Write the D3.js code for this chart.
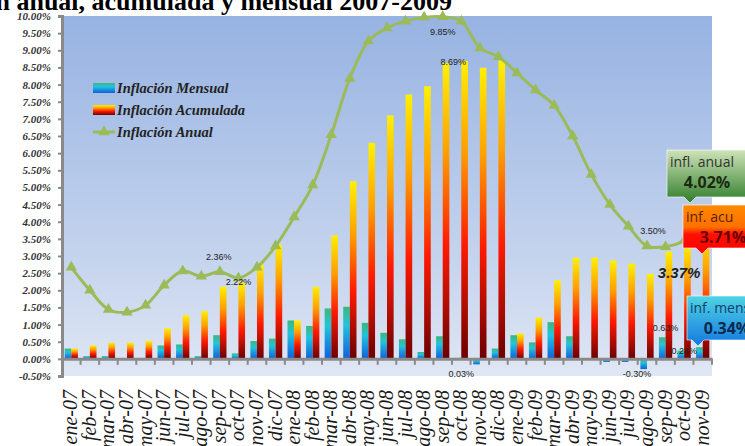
<!DOCTYPE html>
<html>
<head>
<meta charset="utf-8">
<script src="https://cdn.jsdelivr.net/npm/d3@7"></script>
<style>
  body { margin: 0; background: #fff; }
  svg { display: block; }
</style>
</head>
<body>
<svg id="chart" width="745" height="446"></svg>
<script>
// datos
const months = ["ene-07","feb-07","mar-07","abr-07","may-07","jun-07","jul-07","ago-07","sep-07","oct-07","nov-07","dic-07",
  "ene-08","feb-08","mar-08","abr-08","may-08","jun-08","jul-08","ago-08","sep-08","oct-08","nov-08","dic-08",
  "ene-09","feb-09","mar-09","abr-09","may-09","jun-09","jul-09","ago-09","sep-09","oct-09","nov-09"];
const mensual = [0.30,0.08,0.08,-0.02,0.02,0.39,0.42,0.08,0.69,0.16,0.52,0.59,
  1.12,0.96,1.47,1.52,1.05,0.76,0.57,0.20,0.66,0.03,-0.16,0.30,
  0.69,0.48,1.07,0.66,-0.03,-0.09,-0.09,-0.30,0.63,0.24,0.34];
const acumulada = [0.30,0.39,0.47,0.47,0.52,0.89,1.27,1.39,2.10,2.22,2.75,3.33,
  1.12,2.10,3.60,5.18,6.30,7.10,7.71,7.95,8.63,8.69,8.49,8.70,
  0.74,1.20,2.29,2.95,2.95,2.87,2.78,2.48,3.13,3.37,3.71];
const anual = [2.67,2.00,1.44,1.36,1.56,2.15,2.56,2.41,2.54,2.36,2.67,3.29,
  4.14,5.07,6.54,8.18,9.27,9.65,9.85,9.96,9.98,9.85,9.07,8.81,
  8.34,7.84,7.39,6.50,5.38,4.50,3.87,3.29,3.27,3.45,4.02];
const yTicks = [-0.5,0,0.5,1,1.5,2,2.5,3,3.5,4,4.5,5,5.5,6,6.5,7,7.5,8,8.5,9,9.5,10];
const seriesNames = ["Inflación Mensual","Inflación Acumulada","Inflación Anual"];
// etiquetas de datos: texto, mes, valor donde se dibuja
const dataLabels = [
  ["2.36%","sep-07",2.98],
  ["2.22%","oct-07",2.23],
  ["9.85%","sep-08",9.52],
  ["8.69%","oct-08",8.66],
  ["0.03%","oct-08",-0.43],
  ["3.50%","ago-09",3.72],
  ["0.63%","sep-09",0.89],
  ["-0.30%","ago-09",-0.45],
  ["0.24%","oct-09",0.22]
];

const svg = d3.select("#chart");
const margin = { top: 16, right: 33, bottom: 70, left: 62 };
const W = 745, H = 446;

const x = d3.scaleBand().domain(months).range([margin.left, W - margin.right]).padding(0);
const xs = d3.scaleBand().domain(["m","a"]).range([0, x.bandwidth()]).paddingInner(0).paddingOuter(0.4);
const y = d3.scaleLinear().domain([-0.5, 10]).range([H - margin.bottom, margin.top]);

const defs = svg.append("defs");
function grad(id, stops) {
  const g = defs.append("linearGradient").attr("id", id)
    .attr("x1", 0).attr("y1", 0).attr("x2", 0).attr("y2", 1);
  stops.forEach(s => g.append("stop").attr("offset", s[0]).attr("stop-color", s[1]));
}
grad("bg", [[0, "#97b3e2"], [0.7, "#c7d5ee"], [1, "#e0e7f4"]]);
grad("gMens", [[0, "#3cb878"], [0.35, "#22c4dc"], [1, "#1060dc"]]);
grad("gAcum", [[0, "#fff000"], [0.3, "#ffa000"], [0.62, "#ff1a00"], [1, "#6a0000"]]);
grad("boxAnual", [[0, "#cfe3b8"], [1, "#2f7d2a"]]);
grad("boxAcum", [[0, "#ff8a00"], [0.45, "#ff7000"], [0.6, "#ff1000"], [1, "#ff0000"]]);
grad("boxMens", [[0, "#4fd4e4"], [1, "#1478e0"]]);

// fondo del area de trazado
svg.append("rect")
  .attr("x", margin.left).attr("y", margin.top)
  .attr("width", W - margin.left - margin.right)
  .attr("height", H - margin.top - margin.bottom)
  .attr("fill", "url(#bg)");

// titulo (cortado arriba y a la izquierda como en el original)
svg.append("text")
  .attr("x", 452).attr("y", 10)
  .attr("text-anchor", "end")
  .attr("font-family", "Liberation Serif, Times New Roman, serif")
  .attr("font-weight", "bold").attr("font-size", 26)
  .text("Inflación anual, acumulada y mensual 2007-2009");

// barras
const g = svg.append("g");
g.selectAll(".mens").data(months).enter().append("rect")
  .attr("x", (d) => x(d) + xs("m"))
  .attr("y", (d, i) => y(Math.max(0, mensual[i])))
  .attr("width", xs.bandwidth())
  .attr("height", (d, i) => Math.abs(y(mensual[i]) - y(0)))
  .attr("fill", "url(#gMens)");
g.selectAll(".acum").data(months).enter().append("rect")
  .attr("x", (d) => x(d) + xs("a"))
  .attr("y", (d, i) => y(acumulada[i]))
  .attr("width", xs.bandwidth())
  .attr("height", (d, i) => y(0) - y(acumulada[i]))
  .attr("fill", "url(#gAcum)");

// eje Y
const yAxis = svg.append("g")
  .attr("transform", `translate(${margin.left},0)`)
  .call(d3.axisLeft(y).tickValues(yTicks).tickSize(4).tickFormat(d => d.toFixed(2) + "%"));
yAxis.select(".domain").attr("stroke", "#8a8a8a").attr("stroke-width", 3);
yAxis.selectAll(".tick line").attr("stroke", "#8a8a8a").attr("stroke-width", 2);
yAxis.selectAll("text")
  .attr("x", -11)
  .attr("font-family", "Liberation Serif, Times New Roman, serif")
  .attr("font-style", "italic").attr("font-weight", "bold")
  .attr("font-size", 11).attr("fill", "#333");

// eje X en el cero
const xAxis = svg.append("g")
  .attr("transform", `translate(0,${y(0)})`)
  .call(d3.axisBottom(x).tickSize(0).tickFormat(""));
xAxis.select(".domain").attr("stroke", "#8a8a8a").attr("stroke-width", 3);
xAxis.selectAll(".sep").data(months).enter().append("line")
  .attr("x1", d => x(d) + x.bandwidth()).attr("x2", d => x(d) + x.bandwidth())
  .attr("y1", 0).attr("y2", 6)
  .attr("stroke", "#8a8a8a").attr("stroke-width", 2);

// etiquetas de meses
svg.append("g").selectAll("text").data(months).enter().append("text")
  .attr("transform", d => `translate(${x(d) + x.bandwidth() / 2 + 6},${y.range()[0] + 14}) rotate(-90)`)
  .attr("text-anchor", "end")
  .attr("font-family", "Liberation Serif, Times New Roman, serif")
  .attr("font-style", "italic")
  .attr("font-size", 20).attr("fill", "#1a1a1a")
  .text(d => d);

// linea anual
const line = d3.line()
  .x((d, i) => x(months[i]) + x.bandwidth() / 2)
  .y(d => y(d))
  .curve(d3.curveCatmullRom);
svg.append("path").datum(anual)
  .attr("d", line)
  .attr("fill", "none").attr("stroke", "#9bbb59").attr("stroke-width", 3);
const tri = d3.symbol().type(d3.symbolTriangle).size(55);
svg.append("g").selectAll("path").data(anual).enter().append("path")
  .attr("d", tri)
  .attr("transform", (d, i) => `translate(${x(months[i]) + x.bandwidth() / 2},${y(d)})`)
  .attr("fill", "#9bbb59");

// etiquetas de datos
svg.append("g").selectAll("text").data(dataLabels).enter().append("text")
  .attr("x", d => x(d[1]) + x.bandwidth() / 2 + (d[0] === "8.69%" ? -8 : d[0] === "3.50%" ? 6 : d[0] === "-0.30%" ? -10 : d[0] === "2.36%" ? -1 : 0))
  .attr("y", d => y(d[2]) + 3)
  .attr("text-anchor", "middle")
  .attr("font-family", "Liberation Sans, Arial, sans-serif")
  .attr("font-size", 9).attr("fill", "#222")
  .text(d => d[0]);

// leyenda
const leg = svg.append("g").attr("transform", "translate(93,88)");
seriesNames.forEach((name, i) => {
  const row = leg.append("g").attr("transform", `translate(0,${i * 22})`);
  if (i < 2) {
    row.append("rect").attr("x", 0).attr("y", -5).attr("width", 22).attr("height", 10)
      .attr("fill", i === 0 ? "url(#gMens)" : "url(#gAcum)");
  } else {
    row.append("line").attr("x1", 0).attr("x2", 22).attr("y1", 0).attr("y2", 0)
      .attr("stroke", "#9bbb59").attr("stroke-width", 3);
    row.append("path").attr("d", tri).attr("transform", "translate(11,0)").attr("fill", "#9bbb59");
  }
  row.append("text").attr("x", 24).attr("y", 5)
    .attr("font-family", "Liberation Serif, Times New Roman, serif")
    .attr("font-style", "italic").attr("font-weight", "bold")
    .attr("font-size", 14.5).attr("fill", "#222")
    .text(name);
});

// valor acumulado de oct-09 resaltado
svg.append("text")
  .attr("x", x("oct-09") + x.bandwidth() / 2 - 5).attr("y", y(3.37) + 5 + 30)
  .attr("text-anchor", "middle")
  .attr("font-family", "Liberation Sans, Arial, sans-serif")
  .attr("font-style", "italic").attr("font-weight", "bold")
  .attr("font-size", 15).attr("fill", "#222")
  .text("3.37%");

// recuadros de ultimo dato (nov-09)
const last = months.length - 1;
const boxes = [
  { top: 150, left: 667, h: 47, tip: 690, fill: "url(#boxAnual)", t1: "infl. anual", t2: anual[last].toFixed(2) + "%", c1: "#333", c2: "#1c2a14" },
  { top: 205, left: 683, h: 43, tip: 702, fill: "url(#boxAcum)", t1: "inf. acu", t2: acumulada[last].toFixed(2) + "%", c1: "#5a2300", c2: "#6a0000" },
  { top: 296, left: 687, h: 44, tip: 698, fill: "url(#boxMens)", t1: "inf. mens", t2: mensual[last].toFixed(2) + "%", c1: "#14406a", c2: "#0a2a50" }
];
boxes.forEach(b => {
  const r = b.left + 82, bot = b.top + b.h;
  svg.append("path")
    .attr("d", `M${b.left},${b.top}H${r}V${bot}H${b.tip + 6}L${b.tip},${bot + 6}L${b.tip - 6},${bot}H${b.left}Z`)
    .attr("fill", b.fill).attr("stroke", "rgba(255,255,255,0.6)").attr("stroke-width", 1);
  svg.append("text").attr("x", b.left + 3).attr("y", b.top + 17)
    .attr("font-family", "Open Sans, Liberation Sans, sans-serif")
    .attr("font-size", 14).attr("fill", b.c1).text(b.t1);
  svg.append("text").attr("x", b.left + 40).attr("y", b.top + 38)
    .attr("text-anchor", "middle")
    .attr("font-family", "Open Sans, Liberation Sans, sans-serif")
    .attr("font-weight", "bold")
    .attr("font-size", 16).attr("fill", b.c2).text(b.t2);
});
</script>
</body>
</html>
